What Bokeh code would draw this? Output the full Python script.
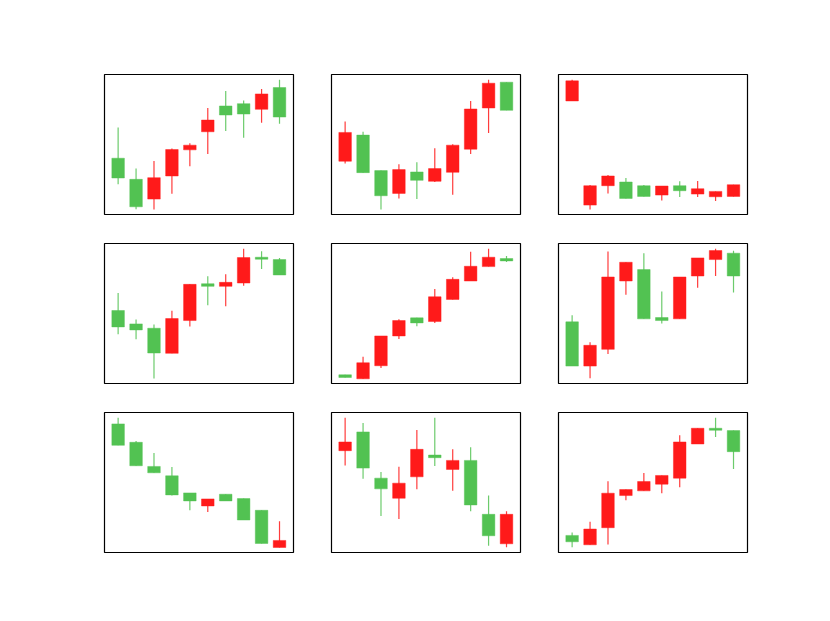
from bokeh.plotting import figure
from bokeh.layouts import column, row
from bokeh.models import Range1d, ColumnDataSource
from bokeh.embed import file_html
from bokeh.resources import INLINE

days = list(range(1, 11))

# (open, high, low, close) per panel, 10 candles each
p1_open  = [168, 105, 46, 115, 193, 247, 324, 331, 314, 379]
p1_high  = [260, 137, 160, 197, 213, 318, 369, 340, 375, 402]
p1_low   = [90, 16, 15, 62, 144, 181, 249, 229, 274, 271]
p1_close = [109, 23, 110, 194, 207, 282, 297, 300, 360, 291]

p2_open  = [159, 237, 131, 63, 127, 99, 126, 195, 318, 395]
p2_high  = [278, 247, 131, 150, 156, 198, 210, 339, 402, 395]
p2_low   = [152, 125, 15, 48, 46, 97, 59, 181, 243, 311]
p2_close = [245, 125, 56, 134, 102, 137, 207, 315, 392, 311]

p3_open  = [339, 28, 86, 97, 86, 58, 86, 61, 53, 54]
p3_high  = [402, 88, 118, 109, 88, 85, 99, 100, 69, 89]
p3_low   = [339, 15, 63, 48, 54, 42, 52, 52, 40, 54]
p3_close = [399, 86, 115, 48, 54, 85, 71, 77, 69, 89]

p4_open  = [218, 178, 165, 90, 188, 298, 290, 300, 377, 370]
p4_high  = [270, 191, 176, 217, 296, 320, 326, 402, 395, 375]
p4_low   = [147, 132, 15, 90, 170, 234, 231, 292, 342, 324]
p4_close = [169, 160, 91, 194, 296, 290, 302, 376, 371, 324]

p5_open  = [26, 14, 53, 142, 196, 185, 251, 306, 349, 373]
p5_high  = [26, 80, 142, 192, 196, 282, 317, 393, 402, 381]
p5_low   = [18, 14, 46, 133, 171, 181, 251, 306, 349, 363]
p5_close = [18, 62, 142, 188, 181, 259, 311, 350, 377, 366]

p6_open  = [184, 52, 102, 306, 340, 197, 193, 321, 370, 389]
p6_high  = [204, 123, 394, 362, 389, 275, 318, 375, 402, 396]
p6_low   = [52, 16, 88, 265, 193, 179, 193, 286, 321, 272]
p6_close = [52, 114, 318, 362, 193, 188, 318, 375, 397, 321]

p7_open  = [384, 329, 257, 229, 178, 139, 174, 161, 126, 15]
p7_high  = [402, 333, 297, 255, 178, 160, 174, 161, 126, 93]
p7_low   = [320, 259, 238, 170, 126, 121, 154, 97, 27, 15]
p7_close = [320, 259, 238, 172, 154, 160, 154, 97, 27, 36]

p8_open  = [304, 360, 222, 162, 226, 291, 248, 275, 114, 26]
p8_high  = [402, 387, 240, 256, 366, 402, 308, 314, 170, 123]
p8_low   = [260, 220, 109, 100, 189, 258, 184, 123, 20, 16]
p8_close = [330, 252, 190, 207, 308, 283, 275, 142, 50, 114]

p9_open  = [51, 23, 74, 170, 184, 204, 222, 324, 371, 364]
p9_high  = [60, 92, 213, 188, 237, 230, 350, 371, 402, 364]
p9_low   = [16, 23, 24, 156, 184, 177, 195, 324, 345, 249]
p9_close = [32, 70, 177, 188, 212, 230, 330, 371, 365, 301]

panels = [
    (p1_open, p1_high, p1_low, p1_close),
    (p2_open, p2_high, p2_low, p2_close),
    (p3_open, p3_high, p3_low, p3_close),
    (p4_open, p4_high, p4_low, p4_close),
    (p5_open, p5_high, p5_low, p5_close),
    (p6_open, p6_high, p6_low, p6_close),
    (p7_open, p7_high, p7_low, p7_close),
    (p8_open, p8_high, p8_low, p8_close),
    (p9_open, p9_high, p9_low, p9_close),
]

UP = "#ff1a1a"
DOWN = "#52c252"

FRAME_W, FRAME_H = 189, 140
col_borders = [(104, 19), (19, 19), (19, 60)]
row_borders = [(74, 15), (14, 15), (14, 40)]


def make_panel(data, lb, rb, tb, bb):
    o, h, l, c = data
    colors = [UP if cc >= oo else DOWN for oo, cc in zip(o, c)]
    src = ColumnDataSource(dict(
        x=days,
        top=[max(a, b) for a, b in zip(o, c)],
        bottom=[min(a, b) for a, b in zip(o, c)],
        high=h, low=l, color=colors,
    ))
    p = figure(width=lb + FRAME_W + rb, height=tb + FRAME_H + bb,
               x_range=Range1d(0.24, 10.78), y_range=Range1d(0, 418),
               output_backend="svg", toolbar_location=None,
               x_axis_type=None, y_axis_type=None,
               min_border_left=lb, min_border_right=rb,
               min_border_top=tb, min_border_bottom=bb)
    p.grid.visible = False
    p.outline_line_color = "black"
    p.outline_line_width = 1.2
    p.outline_line_alpha = 1.0
    p.background_fill_color = "white"
    p.border_fill_color = "white"
    p.segment(x0="x", y0="low", x1="x", y1="high", source=src,
              line_color="color", line_width=1.2, line_alpha=0.85)
    p.vbar(x="x", width=0.7, top="top", bottom="bottom", source=src,
           fill_color="color", line_color="color", line_alpha=0.45, line_width=1)
    return p


rows = []
for r in range(3):
    figs = []
    for cidx in range(3):
        lb, rb = col_borders[cidx]
        tb, bb = row_borders[r]
        figs.append(make_panel(panels[r * 3 + cidx], lb, rb, tb, bb))
    rows.append(row(*figs, spacing=0))
layout = column(*rows, spacing=0)

open("out.html", "w").write(file_html(layout, INLINE))
